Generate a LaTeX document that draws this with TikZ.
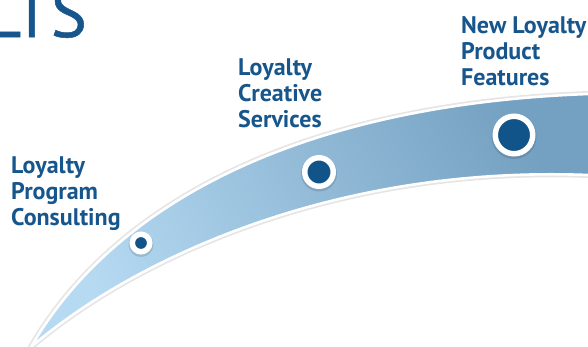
\documentclass[tikz,border=0pt]{standalone}
\usepackage{fontspec}
\setmainfont{PT Sans}
\newfontfamily\headingfont[FakeBold=0.8]{PT Sans}
\definecolor{inkblue}{HTML}{17568C}
\definecolor{dotblue}{HTML}{115489}
\definecolor{bandlight}{HTML}{B6DAF2}
\definecolor{banddark}{HTML}{74A0C1}
\begin{document}
\begin{tikzpicture}[x=1pt,y=-1pt,
  steplabel/.style={font=\bfseries\fontsize{24}{25.8}\selectfont, text=inkblue,
    align=left, anchor=base west, inner sep=0pt},
  milestone/.style={circle, fill=dotblue, draw=white, line width=5.5pt, inner sep=0pt},
  dotshadow/.style={circle, fill=black, opacity=0.12, inner sep=0pt}]
\useasboundingbox (0,0) rectangle (588,346);
\begin{scope}
\clip (0,0) rectangle (588,346);
% heading, running off the top-left corner
\node[font=\headingfont\fontsize{68}{68}\selectfont, text=inkblue, anchor=base east, inner sep=0pt]
  (heading) at (87,37) {LTS};

% the rising swoosh
\def\swoosh{(31,347) .. controls (110,210) and (290,105) .. (588,94)
  -- (600,94) -- (600,175) -- (588,175)
  .. controls (330,165) and (130,262) .. (31,347) -- cycle}
\draw[black, opacity=0.10, line width=6pt, line join=round] \swoosh;
\shade[top color=banddark, bottom color=bandlight, shading angle=-62] \swoosh;
\draw[white, line width=2.6pt, line join=round] \swoosh;

% milestones along the swoosh
\node[dotshadow, minimum size=25pt] at (141,244.5) {};
\node[milestone, minimum size=17.5pt] (m1) at (141,243) {};
\node[dotshadow, minimum size=36pt] at (319,173.5) {};
\node[milestone, minimum size=28.5pt] (m2) at (319,172) {};
\node[dotshadow, minimum size=45pt] at (514,136.5) {};
\node[milestone, minimum size=37.5pt] (m3) at (514,135) {};

% captions (anchored at the baseline of their last line)
\node[steplabel] (l1) at (11,225) {Loyalty\\Program\\Consulting};
\node[steplabel] (l2) at (238,127) {Loyalty\\Creative\\Services};
\node[steplabel] (l3) at (461,85) {New Loyalty\\Product\\Features};
\end{scope}
\end{tikzpicture}
\end{document}
